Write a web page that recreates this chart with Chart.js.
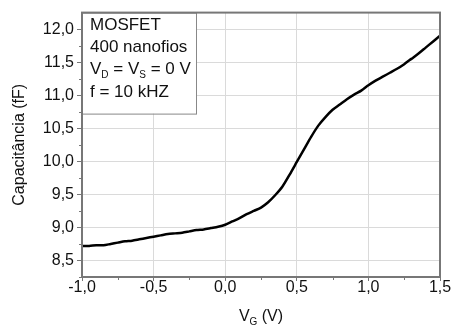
<!DOCTYPE html>
<html>
<head>
<meta charset="utf-8">
<script src="https://cdn.jsdelivr.net/npm/chart.js@4.4.1/dist/chart.umd.min.js"></script>
<style>
  html, body { margin: 0; padding: 0; background: #fff; }
</style>
</head>
<body>
<canvas id="cvChart" width="452" height="329"></canvas>
<script>
/* C-V curve data: gate voltage (V) vs capacitance (fF) */
const gateVoltage = [
  -1.00, -0.95, -0.90, -0.85, -0.80, -0.75, -0.70, -0.65, -0.60, -0.55,
  -0.50, -0.45, -0.40, -0.35, -0.30, -0.25, -0.20, -0.15, -0.10, -0.05,
   0.00,  0.05,  0.10,  0.15,  0.20,  0.25,  0.30,  0.35,  0.40,  0.45,
   0.50,  0.55,  0.60,  0.65,  0.70,  0.75,  0.80,  0.85,  0.90,  0.95,
   1.00,  1.05,  1.10,  1.15,  1.20,  1.25,  1.30,  1.35,  1.40,  1.45,
   1.50
];
const capacitance = [
   8.72,  8.72,  8.73,  8.73,  8.75,  8.77,  8.79,  8.80,  8.82,  8.84,
   8.86,  8.88,  8.90,  8.91,  8.92,  8.94,  8.96,  8.97,  8.99,  9.01,
   9.04,  9.09,  9.14,  9.20,  9.25,  9.30,  9.38,  9.49,  9.62,  9.80,
   9.99, 10.18, 10.37, 10.54, 10.67, 10.78, 10.86, 10.94, 11.01, 11.07,
  11.15, 11.22, 11.28, 11.34, 11.40, 11.47, 11.55, 11.63, 11.72, 11.81,
  11.90
];

const xTicks = [-1.0, -0.5, 0.0, 0.5, 1.0, 1.5];
const xMinor = [-0.75, -0.25, 0.25, 0.75, 1.25];
const yTicks = [8.5, 9.0, 9.5, 10.0, 10.5, 11.0, 11.5, 12.0];
const yMinor = [8.25, 8.75, 9.25, 9.75, 10.25, 10.75, 11.25, 11.75];

const FONT = "'Liberation Sans', Arial, sans-serif";
const AXIS_GRAY = "#777";

// comma as decimal separator
function fmt(v) {
  return v.toFixed(1).replace(".", ",");
}

// draws text runs, some of them as subscripts; returns total width
function drawRuns(ctx, runs, x, y, size, measureOnly) {
  let cx = x;
  runs.forEach((r) => {
    const s = r.sub ? Math.round(size * 0.6) : size;
    ctx.font = s + "px " + FONT;
    if (!measureOnly) ctx.fillText(r.t, cx, r.sub ? y + size * 0.25 : y);
    cx += ctx.measureText(r.t).width;
  });
  return cx - x;
}

const infoLines = [
  [{ t: "MOSFET" }],
  [{ t: "400 nanofios" }],
  [{ t: "V" }, { t: "D", sub: true }, { t: " = V" }, { t: "S", sub: true }, { t: " = 0 V" }],
  [{ t: "f = 10 kHZ" }]
];

const decorPlugin = {
  id: "decor",
  afterDatasetsDraw(chart) {
    const { ctx, chartArea: a } = chart;
    ctx.save();
    // info box in the upper-left corner
    ctx.fillStyle = "#fff";
    ctx.fillRect(a.left, a.top, 114, 101);
    ctx.strokeStyle = "#888";
    ctx.lineWidth = 1;
    ctx.strokeRect(a.left + 0.5, a.top + 0.5, 114, 101);
    ctx.fillStyle = "#111";
    ctx.textBaseline = "alphabetic";
    const baselines = [30, 52, 74, 97];
    infoLines.forEach((runs, i) => drawRuns(ctx, runs, a.left + 8, baselines[i], 17));
    ctx.restore();
  },
  afterDraw(chart) {
    const { ctx, chartArea: a, scales } = chart;
    const x = scales.x, y = scales.y;
    ctx.save();
    // frame round the plot
    ctx.strokeStyle = AXIS_GRAY;
    ctx.lineWidth = 2;
    ctx.strokeRect(a.left, a.top, a.right - a.left, a.bottom - a.top);
    // minor ticks
    ctx.lineWidth = 1;
    ctx.beginPath();
    xMinor.forEach((v) => {
      const px = Math.round(x.getPixelForValue(v)) + 0.5;
      ctx.moveTo(px, a.bottom);
      ctx.lineTo(px, a.bottom + 3);
    });
    yMinor.forEach((v) => {
      const py = Math.round(y.getPixelForValue(v)) + 0.5;
      ctx.moveTo(a.left, py);
      ctx.lineTo(a.left - 3, py);
    });
    ctx.stroke();

    // axis titles
    ctx.fillStyle = "#111";
    ctx.textBaseline = "alphabetic";
    const xTitle = [{ t: "V" }, { t: "G", sub: true }, { t: " (V)" }];
    const w = drawRuns(ctx, xTitle, 0, 0, 16, true);
    drawRuns(ctx, xTitle, (a.left + a.right) / 2 - w / 2, 321, 16);

    ctx.translate(20, (a.top + a.bottom) / 2);
    ctx.rotate(-Math.PI / 2);
    ctx.textAlign = "center";
    ctx.textBaseline = "middle";
    ctx.font = "16px " + FONT;
    ctx.fillText("Capacitância (fF)", 0, 0);
    ctx.restore();
  }
};

new Chart("cvChart", {
  type: "line",
  data: {
    datasets: [
      {
        data: gateVoltage.map((v, i) => ({ x: v, y: capacitance[i] })),
        borderColor: "#000",
        borderWidth: 2.5,
        pointRadius: 0,
        tension: 0.25,
        fill: false
      }
    ]
  },
  options: {
    responsive: false,
    animation: false,
    layout: { padding: { top: 7, right: 12, left: 0, bottom: 0 } },
    plugins: {
      legend: { display: false },
      tooltip: { enabled: false }
    },
    scales: {
      x: {
        type: "linear",
        min: -1,
        max: 1.5,
        afterBuildTicks: (s) => { s.ticks = xTicks.map((v) => ({ value: v })); },
        afterFit: (s) => { s.height = 52; },
        ticks: {
          callback: (v) => fmt(v),
          font: { family: FONT, size: 16 },
          color: "#111",
          padding: -3,
          maxRotation: 0,
          autoSkip: false
        },
        grid: { color: "#dadada", tickColor: AXIS_GRAY, tickLength: 4 },
        border: { color: AXIS_GRAY, width: 2 }
      },
      y: {
        min: 8.25,
        max: 12.25,
        afterBuildTicks: (s) => { s.ticks = yTicks.map((v) => ({ value: v })); },
        afterFit: (s) => { s.width = 82; },
        ticks: {
          callback: (v) => fmt(v),
          font: { family: FONT, size: 16 },
          color: "#111",
          padding: 3,
          autoSkip: false
        },
        grid: { color: "#dadada", tickColor: AXIS_GRAY, tickLength: 5 },
        border: { color: AXIS_GRAY, width: 2 }
      }
    }
  },
  plugins: [decorPlugin]
});
</script>
</body>
</html>
